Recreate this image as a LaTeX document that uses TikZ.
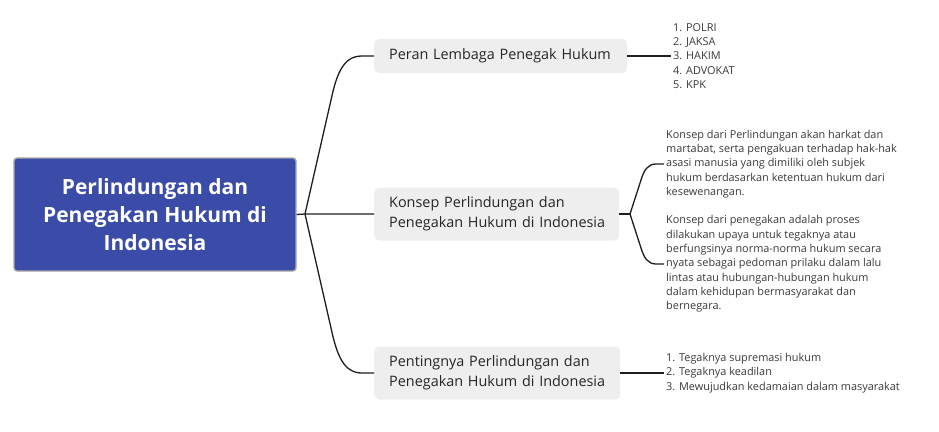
\documentclass[tikz,border=0pt]{standalone}
\usepackage{fontspec}
\setmainfont{Open Sans}
\definecolor{rootblue}{HTML}{3B4BA8}
\definecolor{rootedge}{HTML}{A8A8A8}
\definecolor{branchgray}{HTML}{EEEEEE}
\definecolor{linecol}{HTML}{1E1E1E}
\definecolor{leaftext}{HTML}{3A3A3A}
\begin{document}
\begin{tikzpicture}[x=1pt,y=-1pt,
  rootbox/.style={draw=rootedge, line width=1.4pt, fill=rootblue, rounded corners=3pt,
    text=white, align=center, inner sep=0pt,
    font=\bfseries\fontsize{21}{28}\selectfont},
  branchbox/.style={fill=branchgray, rounded corners=5pt, anchor=west, align=left,
    inner xsep=15pt, inner ysep=0pt, text=black!85,
    font=\fontsize{14.4}{20}\selectfont},
  leaf/.style={anchor=west, align=left, inner sep=2pt, text=leaftext,
    font=\fontsize{10.9}{14.3}\selectfont},
  conn/.style={draw=linecol, line width=1.3pt}]
\useasboundingbox (0,0) rectangle (939,431);

\node[rootbox, minimum width=282pt, minimum height=113pt] (root) at (155,214.5)
  {Perlindungan dan\\Penegakan Hukum di\\Indonesia};

\node[branchbox, minimum width=253pt, minimum height=34pt, text width=223pt] (b1) at (374,56)
  {\mbox{Peran Lembaga Penegak Hukum}};
\node[branchbox, minimum width=245pt, minimum height=53pt, text width=215pt] (b2) at (374,214)
  {\mbox{Konsep Perlindungan dan}\\\mbox{Penegakan Hukum di Indonesia}};
\node[branchbox, minimum width=246pt, minimum height=53pt, text width=216pt] (b3) at (374,373)
  {\mbox{Pentingnya Perlindungan dan}\\\mbox{Penegakan Hukum di Indonesia}};

\node[leaf] (l1) at (671,56)
  {1. POLRI\\2. JAKSA\\3. HAKIM\\4. ADVOKAT\\5. KPK};
\node[leaf] (l2a) at (664,164)
  {Konsep dari Perlindungan akan harkat dan\\martabat, serta pengakuan terhadap hak-hak\\asasi manusia yang dimiliki oleh subjek\\hukum berdasarkan ketentuan hukum dari\\kesewenangan.};
\node[leaf] (l2b) at (664,264)
  {Konsep dari penegakan adalah proses\\dilakukan upaya untuk tegaknya atau\\berfungsinya norma-norma hukum secara\\nyata sebagai pedoman prilaku dalam lalu\\lintas atau hubungan-hubungan hukum\\dalam kehidupan bermasyarakat dan\\bernegara.};
\node[leaf] (l3) at (664,373)
  {1. Tegaknya supremasi hukum\\2. Tegaknya keadilan\\3. Mewujudkan kedamaian dalam masyarakat};

\coordinate (j) at (305,214);
\coordinate (j2) at (630,214);

\draw[conn] (root.east) -- (j) -- (b2.west);
\draw[conn] (j) -- (331,100) .. controls (337,72) and (344,56) .. (362,56) -- (b1.west);
\draw[conn] (j) -- (331,328) .. controls (337,356) and (344,373) .. (362,373) -- (b3.west);

\draw[conn] (b1.east) -- (l1.west);
\draw[conn] (b2.east) -- (j2);
\draw[conn] (j2) -- (641,180) .. controls (644,170) and (648,164) .. (656,164) -- (l2a.west);
\draw[conn] (j2) -- (641,248) .. controls (644,258) and (648,264) .. (656,264) -- (l2b.west);
\draw[conn] (b3.east) -- (l3.west);
\end{tikzpicture}
\end{document}
